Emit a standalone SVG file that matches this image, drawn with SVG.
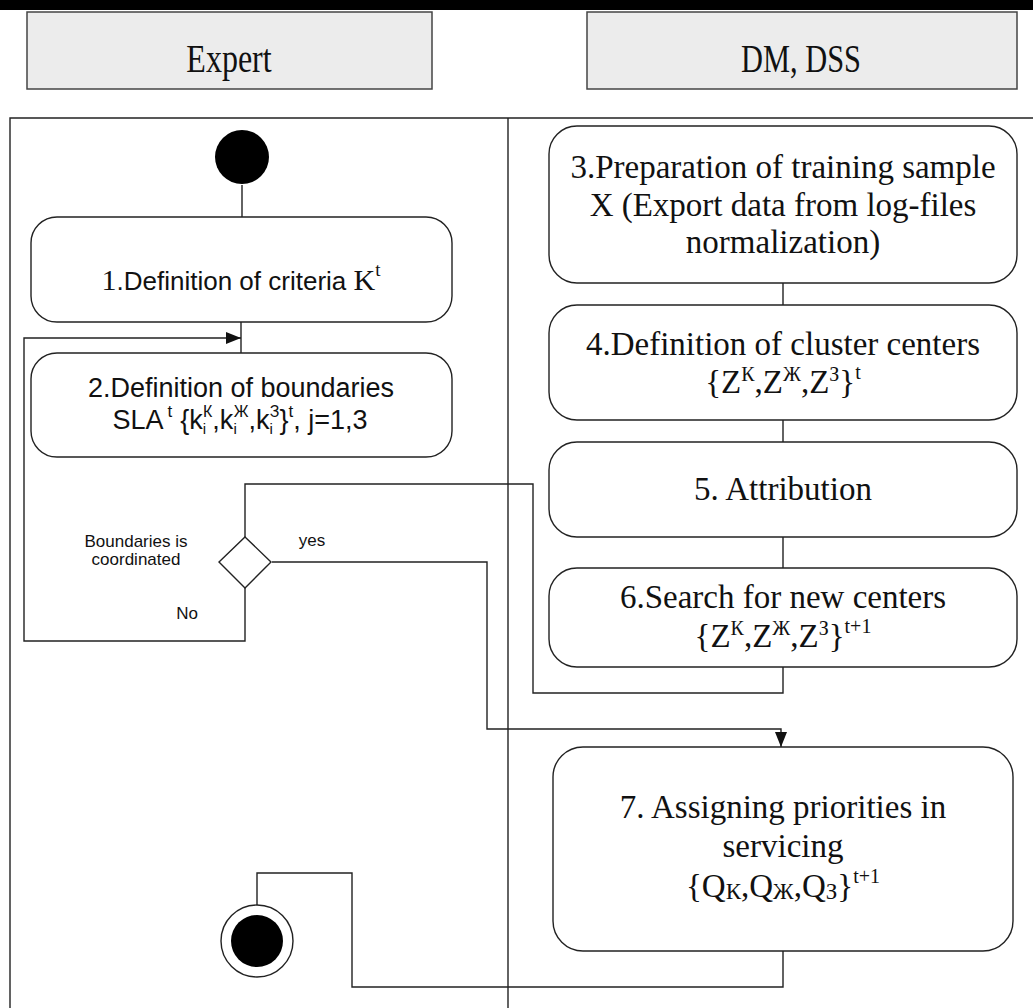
<svg xmlns="http://www.w3.org/2000/svg" width="1033" height="1008" viewBox="0 0 1033 1008">
<defs>
<style>
.hdr{fill:#ececec;stroke:#444;stroke-width:1.5}
.box{fill:#fff;stroke:#222;stroke-width:1.4}
.ln{fill:none;stroke:#222;stroke-width:1.4}
.serif{font-family:"Liberation Serif","Times New Roman",serif;fill:#111}
.sans{font-family:"Liberation Sans",Arial,sans-serif;fill:#111}
.lbl{font-family:"Liberation Sans",Arial,sans-serif;fill:#111;font-size:17px;text-anchor:middle}
.big{font-family:"Liberation Serif","Times New Roman",serif;fill:#111;font-size:33px;text-anchor:middle}
</style>
<marker id="arr" markerWidth="15" markerHeight="12" refX="15" refY="6" orient="auto" markerUnits="userSpaceOnUse">
<path d="M0,0 L15,6 L0,12 Z" fill="#111"/>
</marker>
</defs>
<rect width="1033" height="1008" fill="#fff"/>
<rect x="0" y="0" width="1033" height="10" fill="#000"/>

<g id="lane-expert">
<rect class="hdr" x="27" y="12" width="405" height="77"/>
<text class="serif" transform="translate(229,72) scale(0.8,1)" x="0" y="0" font-size="40" text-anchor="middle">Expert</text>
</g>
<g id="lane-dm">
<rect class="hdr" x="587" y="12" width="430" height="77"/>
<text class="serif" transform="translate(801,72) scale(0.76,1)" x="0" y="0" font-size="40" text-anchor="middle">DM, DSS</text>
</g>

<g id="frame">
<path class="ln" d="M10,1008 V118 H1033"/>
<path class="ln" d="M508,118 V1008"/>
</g>

<g id="connectors">
<path class="ln" d="M242,185 V217"/>
<path class="ln" d="M241,322 V353"/>
<path class="ln" d="M245,588 V641 H24 V338 H241" marker-end="url(#arr)"/>
<path class="ln" d="M783,667 V693 H533 V484 H245 V537"/>
<path class="ln" d="M272,562 H487 V729 H781 V747" marker-end="url(#arr)"/>
<path class="ln" d="M783,283 V305"/>
<path class="ln" d="M783,420 V442"/>
<path class="ln" d="M783,537 V568"/>
<path class="ln" d="M783,951 V987 H352 V873 H257 V905"/>
</g>

<g id="start">
<circle cx="242" cy="157" r="27" fill="#000"/>
</g>

<g id="n1">
<rect class="box" x="31" y="217" width="421" height="105" rx="26"/>
<text x="241" y="290" text-anchor="middle" font-size="26"><tspan class="serif" font-size="30">1</tspan><tspan class="sans">.Definition of criteria </tspan><tspan class="serif" font-size="30">K</tspan><tspan class="serif" font-size="19" dy="-14">t</tspan></text>
</g>

<g id="n2">
<rect class="box" x="31" y="353" width="421" height="104" rx="26"/>
<text class="sans" x="241" y="397" text-anchor="middle" font-size="27">2.Definition of boundaries</text>
<text class="sans" x="240" y="429" text-anchor="middle" font-size="27">SLA<tspan font-size="17" dx="4" dy="-12">t</tspan><tspan dy="12" dx="8">{k</tspan><tspan font-size="15" dy="5">i</tspan><tspan font-size="16" dx="-3" dy="-17">К</tspan><tspan dy="12">,k</tspan><tspan font-size="15" dy="5">i</tspan><tspan font-size="16" dx="-3" dy="-17">Ж</tspan><tspan dy="12">,k</tspan><tspan font-size="15" dy="5">i</tspan><tspan font-size="16" dx="-3" dy="-17">З</tspan><tspan dy="12">}</tspan><tspan font-size="17" dy="-12">t</tspan><tspan dy="12">, j=1,3</tspan></text>
</g>

<g id="decision">
<path class="box" d="M245,537 L271,562 L245,588 L219,562 Z"/>
<text class="lbl" x="136" y="547">Boundaries is</text>
<text class="lbl" x="136" y="565">coordinated</text>
<text class="lbl" x="312" y="546">yes</text>
<text class="lbl" x="187" y="619">No</text>
</g>

<g id="n3">
<rect class="box" x="549" y="126" width="468" height="157" rx="28"/>
<text class="big" x="783" y="178">3.Preparation of training sample</text>
<text class="big" x="783" y="216">X (Export data from log-files</text>
<text class="big" x="783" y="253">normalization)</text>
</g>

<g id="n4">
<rect class="box" x="549" y="305" width="468" height="115" rx="28"/>
<text class="big" x="783" y="355">4.Definition of cluster centers</text>
<text class="big" x="783" y="393">{Z<tspan font-size="20" dy="-12">К</tspan><tspan dy="12">,Z</tspan><tspan font-size="20" dy="-12">Ж</tspan><tspan dy="12">,Z</tspan><tspan font-size="20" dy="-12">З</tspan><tspan dy="12">}</tspan><tspan font-size="20" dy="-14">t</tspan></text>
</g>

<g id="n5">
<rect class="box" x="549" y="442" width="468" height="95" rx="28"/>
<text class="big" x="783" y="500">5. Attribution</text>
</g>

<g id="n6">
<rect class="box" x="549" y="568" width="468" height="99" rx="28"/>
<text class="big" x="783" y="608">6.Search for new centers</text>
<text class="big" x="783" y="647">{Z<tspan font-size="20" dy="-12">К</tspan><tspan dy="12">,Z</tspan><tspan font-size="20" dy="-12">Ж</tspan><tspan dy="12">,Z</tspan><tspan font-size="20" dy="-12">З</tspan><tspan dy="12">}</tspan><tspan font-size="20" dy="-14">t+1</tspan></text>
</g>

<g id="n7">
<rect class="box" x="553" y="747" width="460" height="204" rx="30"/>
<text class="big" x="783" y="818">7. Assigning priorities in</text>
<text class="big" x="783" y="857">servicing</text>
<text class="big" x="783" y="897">{Q<tspan font-size="23" dy="2">К</tspan><tspan dy="-2">,Q</tspan><tspan font-size="23" dy="2">Ж</tspan><tspan dy="-2">,Q</tspan><tspan font-size="23" dy="2">З</tspan><tspan dy="-2">}</tspan><tspan font-size="20" dy="-14">t+1</tspan></text>
</g>

<g id="end">
<circle cx="257" cy="941" r="36" fill="#fff" stroke="#222" stroke-width="1.4"/>
<circle cx="257" cy="941" r="26" fill="#000"/>
</g>
</svg>
